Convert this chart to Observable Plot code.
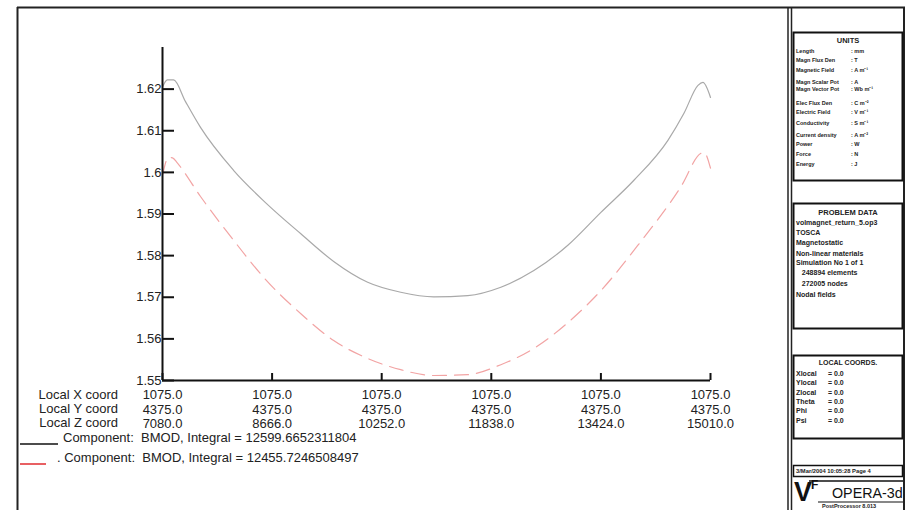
<!DOCTYPE html>
<html><head><meta charset="utf-8">
<script src="https://cdn.jsdelivr.net/npm/d3@7"></script>
<script src="https://cdn.jsdelivr.net/npm/@observablehq/plot@0.6"></script>
<style>
html,body{margin:0;padding:0;background:#fff;}
#wrap{position:relative;width:910px;height:510px;overflow:hidden;font-family:"Liberation Sans",Arial,sans-serif;}
#wrap svg{position:absolute;left:0;top:0;}
</style></head><body><div id="wrap"></div>
<script>
// ---- data ----
const zCoords = [7080, 8666, 10252, 11838, 13424, 15010];
const xCoordLabels = ["1075.0", "1075.0", "1075.0", "1075.0", "1075.0", "1075.0"];
const yCoordLabels = ["4375.0", "4375.0", "4375.0", "4375.0", "4375.0", "4375.0"];
const zCoordLabels = ["7080.0", "8666.0", "10252.0", "11838.0", "13424.0", "15010.0"];
const yTicks = [1.55, 1.56, 1.57, 1.58, 1.59, 1.6, 1.61, 1.62];
const rowLabels = ["Local X coord", "Local Y coord", "Local Z coord"];

const series1Name = "Component:  BMOD, Integral = 12599.6652311804";
const series1Z = [7080, 7150, 7240, 7413, 7630, 8108, 8586, 9078, 9557, 10049, 10527, 11005, 11498, 11976, 12454, 12946, 13424, 13902, 14394, 14626, 14829, 14901, 15010];
const series1B = [1.6205, 1.6222, 1.6222, 1.6170, 1.6108, 1.6005, 1.5925, 1.5853, 1.5786, 1.5736, 1.5712, 1.5701, 1.5704, 1.5724, 1.5764, 1.5825, 1.5904, 1.5981, 1.6077, 1.6142, 1.6209, 1.6216, 1.6180];

const series2Name = ". Component:  BMOD, Integral = 12455.7246508497";
const series2Z = [7080, 7167, 7225, 7297, 7630, 8108, 8586, 9078, 9557, 10049, 10527, 11005, 11498, 11976, 12454, 12946, 13424, 13960, 14583, 14873, 14916, 15010];
const series2B = [1.5993, 1.6036, 1.6035, 1.6022, 1.5942, 1.5837, 1.5740, 1.5661, 1.5596, 1.5553, 1.5526, 1.5512, 1.5514, 1.5538, 1.5577, 1.5639, 1.5716, 1.5825, 1.5966, 1.6046, 1.6048, 1.6010];

const unitsRows = [["Length", "mm"], ["Magn Flux Den", "T"], ["Magnetic Field", "A m\u207B\u00B9"], ["Magn Scalar Pot", "A"], ["Magn Vector Pot", "Wb m\u207B\u00B9"], ["Elec Flux Den", "C m\u207B\u00B2"], ["Electric Field", "V m\u207B\u00B9"], ["Conductivity", "S m\u207B\u00B9"], ["Current density", "A m\u207B\u00B2"], ["Power", "W"], ["Force", "N"], ["Energy", "J"]];
const problemRows = ["volmagnet_return_5.op3", "TOSCA", "Magnetostatic", "Non-linear materials", "Simulation No 1 of 1", "   248894 elements", "   272005 nodes", "Nodal fields"];
const coordRows = [["Xlocal", "= 0.0"], ["Ylocal", "= 0.0"], ["Zlocal", "= 0.0"], ["Theta", "= 0.0"], ["Phi", "= 0.0"], ["Psi", "= 0.0"]];
const dateText = "3/Mar/2004 10:05:28 Page 4";

// ---- build tables ----
const s1 = series1Z.map((z, i) => ({z, b: series1B[i]}));
const s2 = series2Z.map((z, i) => ({z, b: series2B[i]}));

const W = 910, H = 510;
const mL = 162, mR = 200, mT = 47, mB = 130;
const plotW = W - mL - mR, plotH = H - mT - mB;

const chart = Plot.plot({
  width: W, height: H,
  marginLeft: mL, marginRight: mR, marginTop: mT, marginBottom: mB,
  style: {fontFamily: "'Liberation Sans', Arial, sans-serif", fontSize: "13px", color: "#222", background: "transparent", overflow: "visible"},
  x: {domain: [7080, 15010]},
  y: {domain: [1.55, 1.63]},
  marks: [
    Plot.line(s1, {x: "z", y: "b", stroke: "#a9a9a9", strokeWidth: 1.2, curve: "monotone-x"}),
    Plot.line(s2, {x: "z", y: "b", stroke: "#f2a4a4", strokeWidth: 1.2, strokeDasharray: "14,8", curve: "monotone-x"}),
    Plot.ruleY([1.55], {stroke: "#111", strokeWidth: 2}),
    Plot.ruleX([7080], {stroke: "#111", strokeWidth: 2}),
    Plot.tickY(yTicks, {y: d => d, stroke: "#111", strokeWidth: 2, insetRight: plotW - 12}),
    Plot.tickX(zCoords, {x: d => d, stroke: "#111", strokeWidth: 2, insetTop: plotH - 7}),
    Plot.axisY(yTicks, {tickSize: 0, tickPadding: 1, fontSize: 13, fill: "#222",
      tickFormat: d => String(+d.toFixed(2)), label: null}),
    Plot.axisX(zCoords, {tickSize: 0, tickPadding: 9, fontSize: 13, fill: "#222", lineHeight: 1.08, label: null,
      tickFormat: d => { const i = zCoords.indexOf(d); return `${xCoordLabels[i]}\n${yCoordLabels[i]}\n${zCoordLabels[i]}`; }})
  ]
});
const wrap = document.getElementById("wrap");
wrap.appendChild(chart);

// ---- frame, legend and side panel ----
const svg = d3.select(wrap).append("svg").attr("width", W).attr("height", H)
  .style("pointer-events", "none").style("font-family", "'Liberation Sans', Arial, sans-serif");
const ln = (x1, y1, x2, y2, w = 1.5, c = "#222") => svg.append("line").attr("x1", x1).attr("y1", y1).attr("x2", x2).attr("y2", y2).attr("stroke", c).attr("stroke-width", w);
const rect = (x, y, w, h, sw = 1.5) => svg.append("rect").attr("x", x).attr("y", y).attr("width", w).attr("height", h).attr("fill", "none").attr("stroke", "#111").attr("stroke-width", sw);
const txt = (x, y, s, size, opts = {}) => svg.append("text").attr("x", x).attr("y", y).attr("font-size", size)
  .attr("fill", opts.fill || "#222").attr("text-anchor", opts.anchor || "start").attr("font-weight", opts.weight || "normal")
  .attr("dominant-baseline", "middle").style("white-space", "pre").text(s);

// outer frame
ln(17.5, 7, 17.5, H, 2);
ln(17, 7.5, 905, 7.5, 2);
ln(788, 7, 788, H, 1.5);
ln(791.5, 7, 791.5, H, 1.5);
ln(904, 7, 904, H, 2);

// row labels
rowLabels.forEach((s, i) => txt(118, 396 + i * 14, s, 13, {anchor: "end"}));

// legend
ln(20, 444, 58, 444, 1.6, "#111");
txt(63, 439, series1Name, 13);
ln(20, 464, 46, 464, 1.6, "#e2383c");
txt(57, 459, series2Name, 13);

// UNITS box
rect(793.5, 32.5, 109, 148, 2);
txt(848, 41, "UNITS", 7.5, {anchor: "middle", weight: "bold"});
const unitsY = [52, 61, 71, 83, 90, 104, 113, 124, 136, 145, 155, 165];
unitsRows.forEach((r, i) => { txt(796, unitsY[i], r[0], 5.5, {weight: "bold"}); txt(851, unitsY[i], ": " + r[1], 5.5, {weight: "bold"}); });

// PROBLEM DATA box
rect(793.5, 203.5, 109, 125, 2);
txt(848, 213, "PROBLEM DATA", 7.5, {anchor: "middle", weight: "bold"});
const probY = [223, 233, 243, 254, 263, 273, 284, 295];
problemRows.forEach((s, i) => txt(796, probY[i], s, 7, {weight: "bold"}));

// LOCAL COORDS box
rect(793.5, 355.5, 109, 83, 2);
txt(848, 363, "LOCAL COORDS.", 7, {anchor: "middle", weight: "bold"});
coordRows.forEach((r, i) => { txt(796, 374 + i * 9.4, r[0], 7, {weight: "bold"}); txt(828, 374 + i * 9.4, r[1], 7, {weight: "bold"}); });

// date box
rect(793.5, 465.5, 109, 11, 1.5);
txt(796, 471, dateText, 5.8, {weight: "bold"});

// logo
txt(794, 494, "V", 27, {weight: "bold", fill: "#111"});
txt(811, 486, "F", 12, {weight: "bold", fill: "#111"});
ln(809, 481, 903, 481, 1.5, "#111");
txt(832, 494, "OPERA-3d", 14.3, {fill: "#111"});
ln(818, 502, 903, 502, 1.2, "#111");
txt(822, 507, "PostProcessor 8.013", 5.5, {weight: "bold"});
</script></body></html>
